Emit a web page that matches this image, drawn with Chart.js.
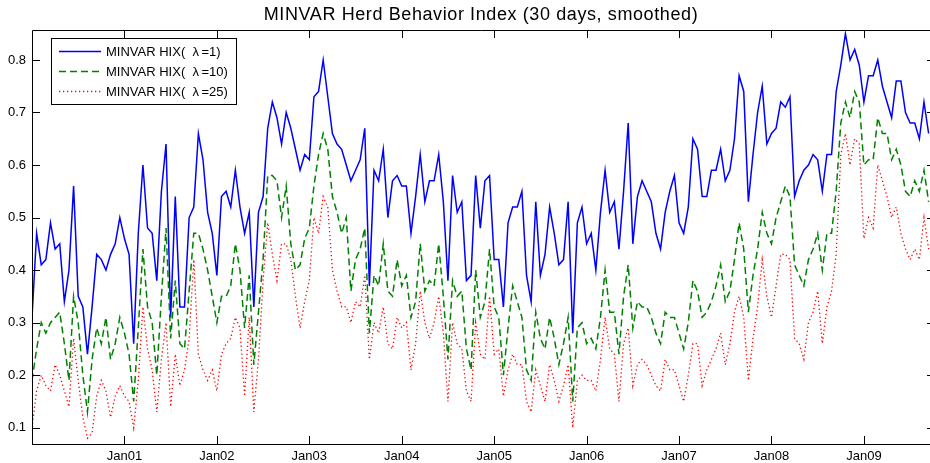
<!DOCTYPE html>
<html>
<head>
<meta charset="utf-8">
<script src="https://cdn.jsdelivr.net/npm/chart.js@4.4.0/dist/chart.umd.min.js"></script>
<style>
html,body{margin:0;padding:0;background:#fff;}
#wrap{width:930px;height:463px;position:relative;}
</style>
</head>
<body>
<div id="wrap"><canvas id="hix" width="930" height="463"></canvas></div>
<script>
// sampling of the series (fractional years)
const startYear = 2000;
const stepYear = 0.05;
const tickYears = [2001, 2002, 2003, 2004, 2005, 2006, 2007, 2008, 2009];
const tickLabels = ['Jan01', 'Jan02', 'Jan03', 'Jan04', 'Jan05', 'Jan06', 'Jan07', 'Jan08', 'Jan09'];
const yTicks = [0.1, 0.2, 0.3, 0.4, 0.5, 0.6, 0.7, 0.8];
const seriesLabels = ['MINVAR HIX(  \u03bb\u2009=1)', 'MINVAR HIX(  \u03bb\u2009=10)', 'MINVAR HIX(  \u03bb\u2009=25)'];

const hix1 = [
  0.31,0.47,0.41,0.42,0.49,0.44,0.45,0.34,0.40,0.56,
  0.35,0.33,0.24,0.33,0.43,0.42,0.40,0.43,0.45,0.50,
  0.46,0.43,0.26,0.47,0.60,0.48,0.47,0.38,0.55,0.64,
  0.31,0.54,0.33,
  0.33,0.50,0.52,0.66,0.61,0.51,0.47,
  0.39,0.54,0.55,0.52,0.59,0.52,0.47,0.51,0.33,0.51,
  0.54,0.67,0.72,0.69,0.64,0.70,0.67,0.63,0.59,0.62,
  0.61,0.73,0.74,0.80,0.73,
  0.66,0.64,0.63,0.60,0.57,
  0.59,0.61,0.67,0.37,0.59,0.57,0.63,0.50,0.57,0.58,
  0.56,0.56,0.47,0.54,0.62,0.53,0.57,0.57,0.62,0.53,
  0.38,0.58,0.51,0.53,0.38,0.39,0.58,0.48,
  0.57,0.58,
  0.42,0.42,0.33,0.49,0.52,0.52,0.55,0.39,0.34,0.53,
  0.39,0.43,0.52,0.47,0.41,0.42,0.53,0.28,0.49,0.52,
  0.45,0.47,0.40,0.51,0.59,0.51,0.53,0.44,0.55,0.68,
  0.45,0.54,0.57,0.55,0.53,0.47,0.44,0.51,0.55,0.58,
  0.49,0.47,0.52,0.65,0.63,0.54,0.54,0.59,0.59,0.63,
  0.57,0.59,0.65,0.77,0.74,0.53,0.62,0.70,0.75,0.64,
  0.66,0.67,0.72,
  0.71,0.73,0.54,0.57,0.59,0.60,0.62,
  0.61,0.55,0.62,0.62,0.74,0.79,0.85,0.80,0.82,0.79,
  0.72,0.77,0.77,0.80,0.75,0.72,0.69,0.76,0.76,0.70,
  0.68,0.68,0.65,0.72,0.66
];
const hix10 = [
  0.19,0.25,0.30,0.28,0.30,0.31,0.32,0.26,0.19,0.35,
  0.30,0.20,0.13,0.23,0.29,0.26,0.31,0.23,0.26,0.31,
  0.28,0.24,0.15,0.29,0.44,0.33,0.30,0.20,0.35,0.48,
  0.27,0.38,0.26,
  0.25,0.36,0.47,0.47,0.44,0.40,0.35,
  0.30,0.35,0.35,0.37,0.45,0.40,0.29,0.39,0.22,0.32,
  0.42,0.58,0.58,0.57,0.50,0.56,0.45,0.40,0.41,0.46,
  0.48,0.56,0.62,0.66,0.63,
  0.54,0.51,0.47,0.50,0.36,
  0.42,0.44,0.48,0.28,0.39,0.37,0.45,0.36,0.35,0.42,
  0.37,0.39,0.31,0.34,0.45,0.36,0.38,0.37,0.45,0.35,
  0.23,0.38,0.35,0.36,0.25,0.21,0.40,0.31,
  0.34,0.44,
  0.33,0.31,0.20,0.29,0.37,0.34,0.31,0.21,0.19,0.32,
  0.27,0.25,0.31,0.27,0.22,0.26,0.31,0.15,0.29,0.30,
  0.26,0.27,0.25,0.31,0.40,0.32,0.32,0.24,0.35,0.41,
  0.29,0.34,0.33,0.33,0.31,0.28,0.26,0.32,0.31,0.31,
  0.28,0.25,0.30,0.38,0.36,0.31,0.32,0.34,0.37,0.41,
  0.34,0.36,0.42,0.49,0.44,0.32,0.39,0.44,0.51,0.47,
  0.45,0.50,0.53,
  0.56,0.54,0.41,0.39,0.37,0.42,0.44,
  0.47,0.40,0.47,0.47,0.55,0.68,0.72,0.69,0.74,0.72,
  0.60,0.61,0.61,0.69,0.66,0.66,0.61,0.63,0.60,0.55,
  0.54,0.57,0.55,0.59,0.53
];
const hix25 = [
  0.10,0.17,0.20,0.18,0.17,0.22,0.20,0.17,0.14,0.27,
  0.19,0.12,0.08,0.09,0.16,0.19,0.17,0.12,0.16,0.18,
  0.16,0.15,0.10,0.19,0.33,0.25,0.21,0.13,0.23,0.30,
  0.14,0.24,0.18,
  0.21,0.27,0.42,0.24,0.21,0.19,0.21,
  0.17,0.24,0.26,0.27,0.31,0.29,0.16,0.31,0.13,0.23,
  0.38,0.49,0.43,0.38,0.45,0.45,0.42,0.35,0.29,0.34,
  0.38,0.50,0.47,0.54,0.52,
  0.40,0.36,0.33,0.33,0.30,
  0.34,0.33,0.39,0.23,0.30,0.28,0.33,0.26,0.25,0.31,
  0.29,0.30,0.21,0.26,0.36,0.30,0.27,0.30,0.35,0.28,
  0.15,0.30,0.26,0.25,0.17,0.15,0.30,0.24,
  0.23,0.35,
  0.24,0.25,0.16,0.21,0.24,0.22,0.22,0.15,0.13,0.21,
  0.18,0.15,0.22,0.19,0.15,0.18,0.22,0.10,0.19,0.20,
  0.19,0.19,0.17,0.23,0.31,0.25,0.24,0.15,0.26,0.29,
  0.18,0.22,0.23,0.22,0.20,0.18,0.17,0.23,0.21,0.21,
  0.18,0.15,0.20,0.26,0.26,0.18,0.21,0.23,0.25,0.28,
  0.22,0.26,0.32,0.35,0.31,0.19,0.27,0.33,0.42,0.35,
  0.31,0.37,0.43,
  0.43,0.42,0.27,0.26,0.23,0.30,0.32,
  0.36,0.26,0.33,0.36,0.43,0.62,0.66,0.60,0.65,0.64,
  0.46,0.50,0.48,0.60,0.57,0.54,0.50,0.52,0.47,0.44,
  0.42,0.44,0.42,0.50,0.44
];

const dates = hix1.map((_, i) => startYear + i * stepYear);
const pts = arr => arr.map((v, i) => ({x: dates[i], y: v}));

const FONT = '"Liberation Sans", Arial, Helvetica, sans-serif';

// title centred over the plot box, frame with inward ticks, boxed legend
const matlabLook = {
  id: 'matlabLook',
  afterDraw(chart) {
    const {ctx, chartArea: a, scales} = chart;
    ctx.save();
    ctx.fillStyle = '#000';
    ctx.font = '18px ' + FONT;
    ctx.letterSpacing = '0.6px';
    ctx.textAlign = 'center';
    ctx.textBaseline = 'alphabetic';
    ctx.fillText('MINVAR Herd Behavior Index (30 days, smoothed)', (a.left + a.right) / 2, 20);
    ctx.letterSpacing = '0px';

    ctx.strokeStyle = '#000';
    ctx.lineWidth = 1;
    ctx.beginPath();
    ctx.moveTo(a.left + 0.5, a.bottom + 0.5);
    ctx.lineTo(a.left + 0.5, a.top + 0.5);
    ctx.lineTo(a.right, a.top + 0.5);
    ctx.moveTo(a.left, a.bottom + 0.5);
    ctx.lineTo(a.right, a.bottom + 0.5);
    const tl = 8;
    tickYears.forEach(t => {
      const x = Math.round(scales.x.getPixelForValue(t)) + 0.5;
      ctx.moveTo(x, a.bottom); ctx.lineTo(x, a.bottom - tl);
      ctx.moveTo(x, a.top); ctx.lineTo(x, a.top + tl);
    });
    yTicks.forEach(v => {
      const y = Math.round(scales.y.getPixelForValue(v)) + 0.5;
      ctx.moveTo(a.left, y); ctx.lineTo(a.left + tl, y);
      ctx.moveTo(a.right, y); ctx.lineTo(a.right - 3, y);
    });
    ctx.stroke();

    // legend
    const lx = 51.5, ly = 38.5, lw = 185, lh = 66;
    ctx.fillStyle = '#fff';
    ctx.fillRect(lx, ly, lw, lh);
    ctx.strokeRect(lx, ly, lw, lh);
    ctx.font = '13px ' + FONT;
    ctx.textAlign = 'left';
    ctx.textBaseline = 'middle';
    chart.data.datasets.forEach((ds, i) => {
      const y = 51.5 + i * 20;
      ctx.save();
      ctx.strokeStyle = ds.borderColor;
      ctx.lineWidth = ds.borderWidth;
      ctx.setLineDash(ds.borderDash || []);
      ctx.beginPath();
      ctx.moveTo(59, y); ctx.lineTo(101, y);
      ctx.stroke();
      ctx.restore();
      ctx.fillStyle = '#000';
      ctx.fillText(ds.label, 106, y + 0.5);
    });
    ctx.restore();
  }
};

new Chart(document.getElementById('hix'), {
  type: 'line',
  data: {
    datasets: [
      {label: seriesLabels[0], data: pts(hix1), borderColor: '#0000ff', borderWidth: 1.5, order: 3},
      {label: seriesLabels[1], data: pts(hix10), borderColor: '#008000', borderWidth: 1.5, borderDash: [7, 4], order: 2},
      {label: seriesLabels[2], data: pts(hix25), borderColor: '#ff0000', borderWidth: 1.3, borderDash: [1.3, 2.7], order: 1}
    ]
  },
  options: {
    responsive: false,
    animation: false,
    devicePixelRatio: 1,
    layout: {padding: {top: 30, right: 0, left: 0, bottom: 0}},
    elements: {point: {radius: 0}, line: {tension: 0, fill: false}},
    plugins: {legend: {display: false}, title: {display: false}, tooltip: {enabled: false}},
    scales: {
      x: {
        type: 'linear',
        min: 2000,
        max: 2009.715,
        grid: {display: false, drawTicks: false},
        border: {display: false},
        afterBuildTicks: s => { s.ticks = tickYears.map(v => ({value: v})); },
        afterFit: s => { s.height = 19; },
        ticks: {
          color: '#000',
          font: {family: FONT, size: 13},
          padding: 5,
          maxRotation: 0,
          autoSkip: false,
          callback: v => tickLabels[tickYears.indexOf(v)]
        }
      },
      y: {
        min: 0.069,
        max: 0.857,
        grid: {display: false, drawTicks: false},
        border: {display: false},
        afterBuildTicks: s => { s.ticks = yTicks.map(v => ({value: v})); },
        afterFit: s => { s.width = 32; },
        ticks: {
          color: '#000',
          font: {family: FONT, size: 13},
          padding: 6,
          callback: v => v.toFixed(1)
        }
      }
    }
  },
  plugins: [matlabLook]
});
</script>
</body>
</html>
